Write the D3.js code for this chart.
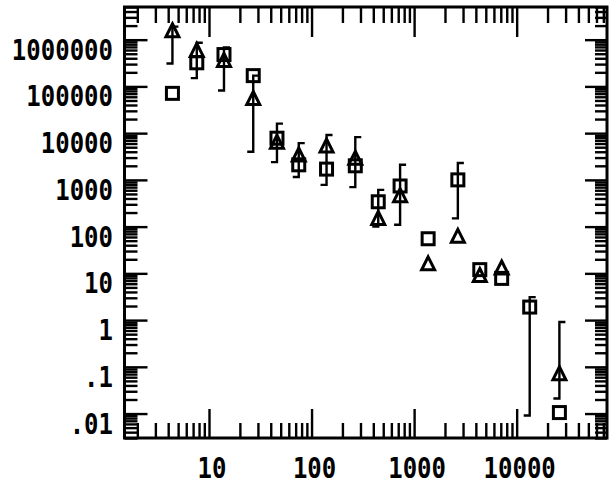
<!DOCTYPE html>
<html>
<head>
<meta charset="utf-8">
<script src="https://cdn.jsdelivr.net/npm/d3@7"></script>
<style>
  body { margin: 0; background: #fff; }
  svg { display: block; }
  .lbl { font-family: "DejaVu Sans Mono", monospace; font-weight: bold; font-size: 24px; fill: #000; }
</style>
</head>
<body>
<svg class="chart" width="610" height="484"></svg>
<script>
// x positions of the measurement groups
const xVals = [4.4, 7.6, 14, 27, 46, 75, 140, 267, 447, 730, 1370, 2670, 4370, 7140, 13400, 26100]
// triangle series
const triVals = [1.55e6, 5.9e5, 3.6e5, 5.5e4, 6400, 3400, 5300, 2900, 150, 460, 16, 62, 9, 13, null, 0.071]
// square series
const sqVals = [7.1e4, 3.2e5, 4.8e5, 1.7e5, 7800, 2100, 1700, 2000, 340, 740, 55, 1000, 12, 7.8, 1.9, 0.0105]
// error bars (top / bottom end)
const errHi = [1.9e6, 8.6e5, 6.8e5, 1.7e5, 16000, 6100, 9100, 8200, 610, 2100, null, 2300, null, null, 3.1, 0.91]
const errLo = [3.1e5, 1.5e5, 8.2e4, 4000, 2400, 1150, 780, 700, 100, 110, null, 150, null, null, 0.0091, 0.021]

const xTickVals = [10, 100, 1000, 10000]
const xTickLabels = ['10', '100', '1000', '10000']
const yTickVals = [1e6, 1e5, 1e4, 1e3, 100, 10, 1, 0.1, 0.01]
const yTickLabels = ['1000000', '100000', '10000', '1000', '100', '10', '1', '.1', '.01']

const plotL = 124.5, plotR = 607, plotT = 7, plotB = 438

const x = d3.scaleLog([1.5, 76000], [plotL, plotR])
const y = d3.scaleLog([5e6, 0.003], [plotT, plotB])

const svg = d3.select('.chart')

const isMajor = (v) => Math.abs(Math.log10(v) - Math.round(Math.log10(v))) < 1e-9
const xMinor = x.ticks().filter(v => !isMajor(v))
const xMajor = x.ticks().filter(isMajor)
const yMinor = y.ticks().filter(v => !isMajor(v))
const yMajor = y.ticks().filter(isMajor)

function axis(gen, pos, vals, size) {
    const g = svg.append('g')
        .attr('transform', pos)
        .call(gen.tickValues(vals).tickSize(size).tickFormat(''))
    g.select('.domain').remove()
    g.selectAll('line').attr('stroke', '#000').attr('stroke-width', 2.4)
}

axis(d3.axisBottom(x), `translate(0,${plotB})`, xMinor, -15)
axis(d3.axisBottom(x), `translate(0,${plotB})`, xMajor, -29)
axis(d3.axisTop(x), `translate(0,${plotT})`, xMinor, -16)
axis(d3.axisTop(x), `translate(0,${plotT})`, xMajor, -30)
axis(d3.axisLeft(y), `translate(${plotL},0)`, yMinor, -13)
axis(d3.axisLeft(y), `translate(${plotL},0)`, yMajor, -23)
axis(d3.axisRight(y), `translate(${plotR},0)`, yMinor, -12)
axis(d3.axisRight(y), `translate(${plotR},0)`, yMajor, -22)

svg.append('rect')
    .attr('x', plotL).attr('y', plotT)
    .attr('width', plotR - plotL).attr('height', plotB - plotT)
    .attr('fill', 'none').attr('stroke', '#000').attr('stroke-width', 3)

// tick labels
svg.selectAll('.ylbl')
    .data(yTickVals)
    .join('text')
        .attr('class', 'lbl ylbl')
        .attr('text-anchor', 'end')
        .attr('transform', d => `translate(113,${y(d) + 20}) scale(1,1.15)`)
        .text((d, i) => yTickLabels[i])

svg.selectAll('.xlbl')
    .data(xTickVals)
    .join('text')
        .attr('class', 'lbl xlbl')
        .attr('text-anchor', 'middle')
        .attr('transform', d => `translate(${x(d) + 3},478) scale(1,1.15)`)
        .text((d, i) => xTickLabels[i])

// error bars
const errs = xVals.map((v, i) => ({x: v, hi: errHi[i], lo: errLo[i]})).filter(d => d.hi != null)
const eg = svg.append('g').attr('stroke', '#000').attr('stroke-width', 2.4).attr('fill', 'none')
eg.selectAll('path')
    .data(errs)
    .join('path')
        .attr('d', d => {
            const cx = x(d.x), y1 = y(d.hi), y2 = y(d.lo)
            return `M${cx + 6},${y1}H${cx}V${y2}H${cx - 6}`
        })

// squares
svg.append('g')
    .selectAll('rect')
    .data(xVals.map((v, i) => ({x: v, y: sqVals[i]})).filter(d => d.y != null))
    .join('rect')
        .attr('x', d => x(d.x) - 6)
        .attr('y', d => y(d.y) - 6)
        .attr('width', 12)
        .attr('height', 12)
        .attr('fill', 'none')
        .attr('stroke', '#000')
        .attr('stroke-width', 3)

// triangles
svg.append('g')
    .selectAll('path')
    .data(xVals.map((v, i) => ({x: v, y: triVals[i]})).filter(d => d.y != null))
    .join('path')
        .attr('d', d => {
            const cx = x(d.x), cy = y(d.y)
            return `M${cx},${cy - 7}L${cx + 6.5},${cy + 6}L${cx - 6.5},${cy + 6}Z`
        })
        .attr('fill', 'none')
        .attr('stroke', '#000')
        .attr('stroke-width', 3)
        .attr('stroke-linejoin', 'miter')
</script>
</body>
</html>
